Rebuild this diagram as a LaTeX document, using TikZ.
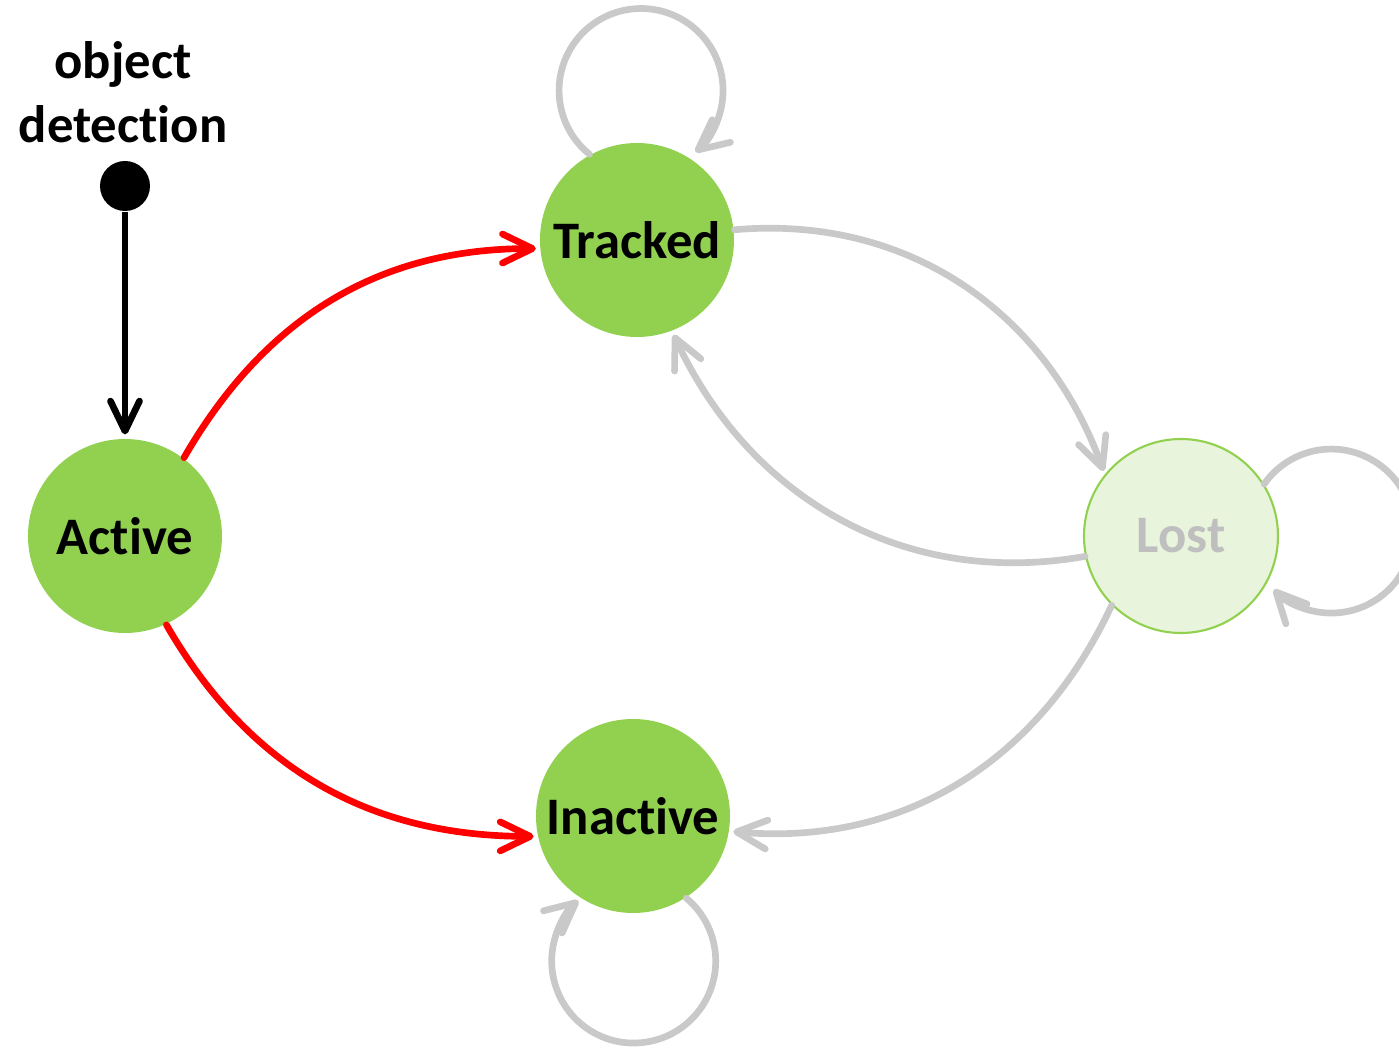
\documentclass[tikz,border=0pt]{standalone}
\usepackage{fontspec}
\setmainfont{Carlito}[Ligatures=NoCommon]
\usepackage{tikz}
\usetikzlibrary{shapes, calc, arrows.meta, automata, positioning}

\definecolor{stategreen}{HTML}{92D050}
\definecolor{lostfill}{HTML}{E8F4DC}
\definecolor{lostgray}{HTML}{BFBFBF}
\definecolor{edgegray}{HTML}{C9C9C9}

\begin{document}
\begin{tikzpicture}[>={Straight Barb[length=3mm,width=2.9mm,round]},shorten >=1pt,semithick,
	every state/.style={circle, draw=none, fill=stategreen, minimum size=1.94cm, inner sep=0pt,
		font=\fontsize{15}{18.2}\selectfont\bfseries},
	lost/.style={fill=lostfill, draw=stategreen, line width=0.6pt, text=lostgray},
	redarrow/.style={->, red, line width=1.9pt, line cap=round},
	grayarrow/.style={->, edgegray, line width=1.9pt, line cap=round},
	]
	\useasboundingbox (0,0) rectangle (13.99,10.47);

	\node[state] (active) at (1.25,5.11) {Active};
	\node[state] (tracked) at (6.37,8.07) {Tracked};
	\node[state] (inactive) at (6.33,2.31) {Inactive};
	\node[state, lost] (lost) at (11.81,5.11) {Lost};

	\node[circle, fill=black, minimum size=0.5cm, inner sep=0pt] (init) at (1.25,8.61) {};
	\node[align=center, inner sep=0pt, font=\fontsize{15}{18.2}\selectfont\bfseries] (label) at (1.23,9.545) {object\\detection};

	\draw[->, line width=1.9pt] (init) -- (active);

	% red transitions
	\path (active.53) edge [redarrow, out=60, in=180] (tracked.185);
	\path (active.295) edge [redarrow, out=-60, in=180] (inactive.192);

	% gray transitions
	\path (tracked.6) edge [grayarrow, out=5, in=110] (lost.141);
	\path (lost.192) edge [grayarrow, out=190, in=-65] (tracked.291);
	\path (lost.225) edge [grayarrow, out=-115, in=-5] (inactive.351);

	% self loops
	\draw[grayarrow] (tracked.119) arc[start angle=231, end angle=-51, radius=0.82cm];
	\draw[grayarrow] (lost.32) arc[start angle=145, end angle=-137, radius=0.82cm];
	\draw[grayarrow] (inactive.-57) arc[start angle=50, end angle=-230, radius=0.82cm];
\end{tikzpicture}
\end{document}
